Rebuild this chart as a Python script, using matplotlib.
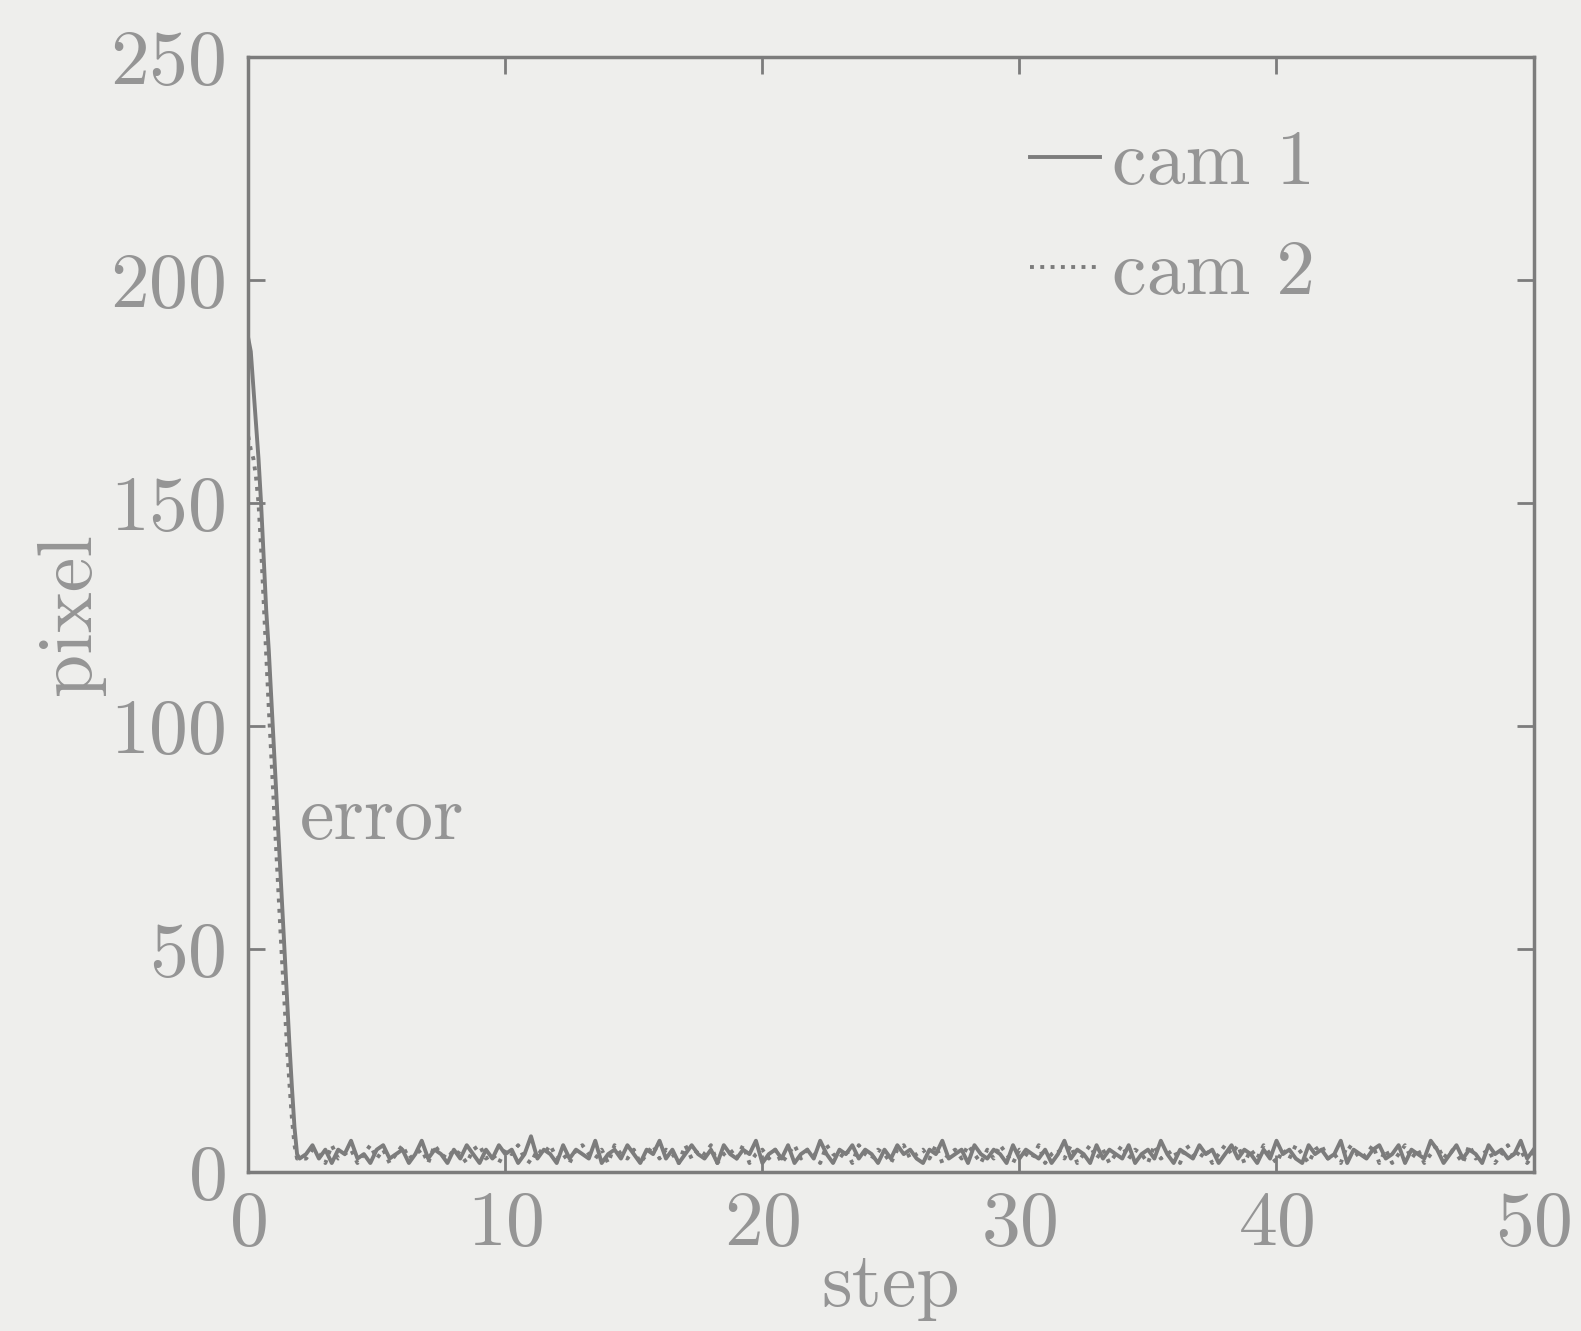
import numpy as np
import matplotlib
matplotlib.use('Agg')
import matplotlib.pyplot as plt

# convergence part (step 0.0 .. 2.0, every 0.1)
cam1_start = [187, 184, 176, 168, 160, 150, 138, 126, 117, 106, 95,
              84, 73, 62, 51, 40, 29, 19, 10, 4, 3]
cam2_start = [165, 162, 160, 156, 150, 140, 128, 116, 104, 93, 82,
              71, 60, 49, 39, 29, 20, 12, 6, 3, 3]

# steady-state residual error (from step 2.25, every 0.25)
cam1_noise = [4,6,3,5,2,5,4,7,3,4,2,5,6,3,4,5,2,4,7,3,5,4,2,5,
              3,6,4,2,5,3,6,4,5,2,4,8,3,5,4,2,6,3,5,4,3,7,2,4,
              5,3,6,4,2,5,4,7,3,5,2,4,6,4,3,5,2,6,4,3,5,4,7,2,
              4,5,3,6,2,4,5,3,7,4,2,5,4,6,3,5,4,2,5,3,6,4,5,3,
              2,5,4,7,3,4,5,2,6,4,3,5,4,2,6,3,5,4,3,5,2,4,7,3,
              5,4,2,6,3,5,4,3,6,2,4,5,3,7,4,2,5,4,3,6,4,5,2,4,
              6,3,5,4,2,5,3,7,4,5,3,2,6,4,5,3,4,7,2,5,4,3,5,6,
              3,4,6,2,5,4,3,7,5,2,4,6,3,5,4,2,6,4,5,3,4,7,3,5]
cam2_noise = [3,5,4,2,6,3,4,5,2,4,6,3,5,2,4,6,3,4,5,2,6,4,3,5,
              4,2,5,6,3,4,2,5,4,6,3,2,5,4,6,3,4,2,5,6,4,3,5,2,
              6,4,3,5,2,4,6,3,5,4,2,6,3,5,4,6,2,4,5,3,6,2,4,5,
              3,5,2,4,6,3,5,4,2,6,4,3,5,2,6,4,3,5,4,2,5,6,3,4,
              5,3,6,2,4,5,3,6,4,2,5,3,6,4,2,5,4,3,6,2,4,5,3,6,
              2,4,6,3,5,2,4,6,3,5,4,2,6,3,4,5,2,6,4,3,5,2,4,6,
              4,6,2,5,3,6,4,2,5,3,6,4,2,5,6,3,4,2,6,5,3,4,6,2,
              5,2,4,6,3,5,2,4,6,3,5,4,2,6,3,4,5,2,4,6,3,5,2,4]

xticks = [0, 10, 20, 30, 40, 50]
yticks = [0, 50, 100, 150, 200, 250]

x1 = np.concatenate([0.1 * np.arange(len(cam1_start)), 2.25 + 0.25 * np.arange(len(cam1_noise))])
x2 = np.concatenate([0.1 * np.arange(len(cam2_start)), 2.25 + 0.25 * np.arange(len(cam2_noise))])
y1 = np.array(cam1_start + cam1_noise, dtype=float)
y2 = np.array(cam2_start + cam2_noise, dtype=float)

bg = '#eeeeec'
gray = '#7c7c7c'
txt = '#959595'

plt.rcParams['font.family'] = ['cmr10', 'DejaVu Serif']
plt.rcParams['axes.formatter.use_mathtext'] = True

fig = plt.figure(figsize=(15.81, 13.31), dpi=100, facecolor=bg)
ax = fig.add_axes([0.157, 0.1195, 0.813, 0.8375])
ax.set_facecolor(bg)

ax.plot(x1, y1, '-', color=gray, lw=2.8, label='cam 1')
ax.plot(x2, y2, ':', color=gray, lw=2.8, label='cam 2')

ax.set_xlim(0, 50)
ax.set_ylim(0, 250)
ax.set_xticks(xticks)
ax.set_yticks(yticks)
ax.tick_params(direction='in', length=12, width=2, colors=gray, labelcolor=txt,
               labelsize=56, top=True, right=True)
ax.tick_params(axis='x', pad=14)
ax.tick_params(axis='y', pad=16)
for s in ax.spines.values():
    s.set_color(gray)
    s.set_linewidth(2.5)

ax.set_xlabel('step', fontsize=56, color=txt, labelpad=-6)
ax.set_ylabel('pixel', fontsize=56, color=txt, labelpad=4)
ax.text(2.0, 79, 'error', fontsize=56, color=txt, ha='left', va='center')

leg = ax.legend(loc='upper right', bbox_to_anchor=(0.83, 0.935), frameon=False,
                fontsize=56, handlelength=0.9, handletextpad=0.15,
                labelspacing=0.52, borderpad=0, borderaxespad=0)
for t in leg.get_texts():
    t.set_color(txt)

fig.savefig('out.png', dpi=100, facecolor=bg)
